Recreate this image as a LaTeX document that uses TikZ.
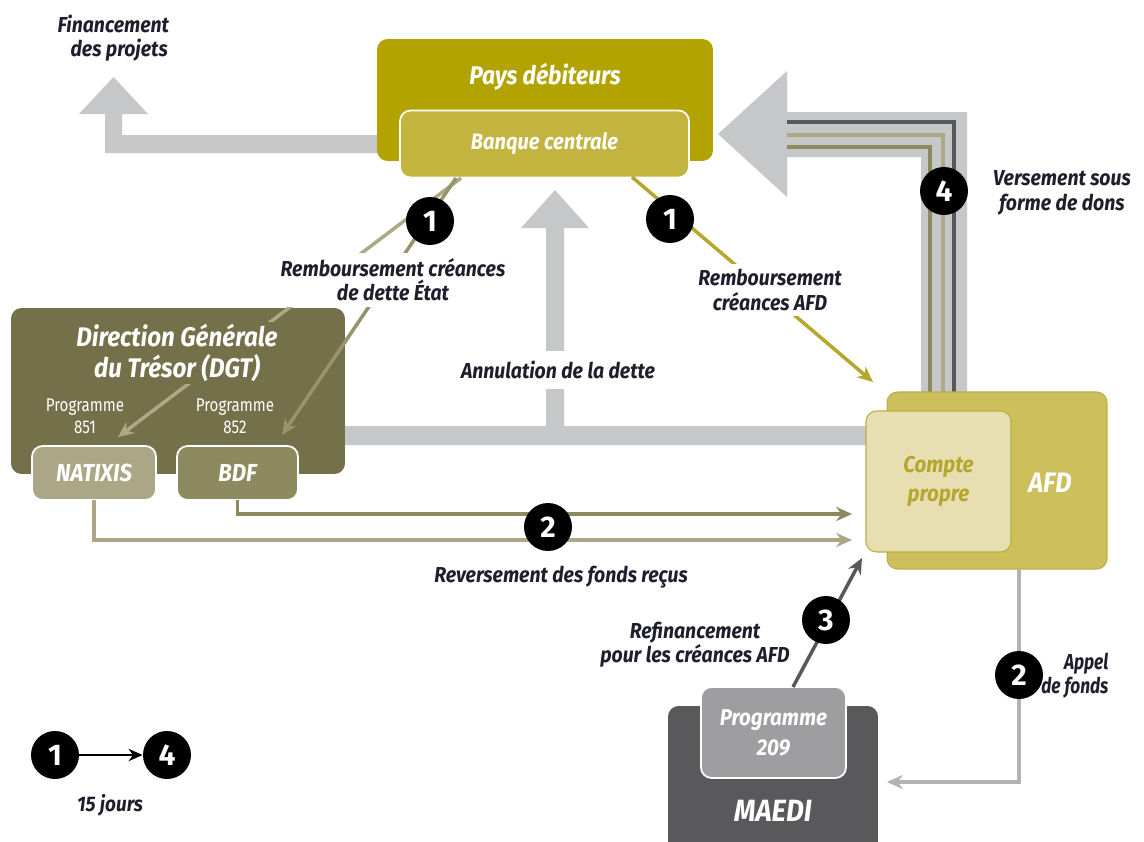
\documentclass[tikz,border=0pt]{standalone}
\usepackage{fontspec}
\setmainfont{Fira Sans}
\newfontfamily\labfont{Fira Sans}[FakeStretch=0.9]
\newfontfamily\narrowfont{Fira Sans}[FakeStretch=0.8]
\newfontfamily\condfont{Fira Sans}[FakeStretch=0.82]
\usetikzlibrary{arrows.meta}
\newcommand\fsz[2]{\fontsize{#1}{#2}\selectfont}
\definecolor{band}{HTML}{C6C7C9}
\definecolor{pays}{HTML}{B2A300}
\definecolor{banque}{HTML}{C3B440}
\definecolor{dgt}{HTML}{747049}
\definecolor{natixis}{HTML}{AAA686}
\definecolor{bdf}{HTML}{8E8A5F}
\definecolor{afd}{HTML}{CDC05C}
\definecolor{afdborder}{HTML}{BBAE3F}
\definecolor{compte}{HTML}{E7DFB2}
\definecolor{comptetxt}{HTML}{B4A62E}
\definecolor{maedi}{HTML}{59595B}
\definecolor{prog}{HTML}{9E9EA0}
\definecolor{lineolive}{HTML}{B5A72C}
\definecolor{linedark}{HTML}{58585A}
\definecolor{linegray}{HTML}{B3B3B3}
\definecolor{lntan}{HTML}{ADA987}
\definecolor{lnolive}{HTML}{97936B}
\definecolor{labc}{HTML}{1E1E2C}
\begin{document}
\begin{tikzpicture}[x=0.02cm,y=-0.02cm,
  box/.style={rounded corners=6pt, inner sep=0pt, outer sep=0pt},
  lbl/.style={text=labc, font=\labfont\itshape\bfseries\fsz{12.3}{13.8}, align=center, fill=white, inner sep=3pt},
  wtxt/.style={text=white, font=\labfont\itshape\bfseries\fsz{12}{16}, align=center},
  num/.style={circle, fill=black, text=white, minimum size=0.96cm, inner sep=0pt, font=\bfseries\fsz{17}{17}},
  flowtip/.style={-{Stealth[length=9pt,width=8pt,inset=3pt]}},
  conn/.style={line width=2pt}]
\clip (0,0) rectangle (1144,842);
\fill[white] (0,0) rectangle (1144,842);

% grey bands
\fill[band] (400,135) -- (122,135) -- (122,114) -- (148,114) -- (113.5,77) -- (79,114) -- (105,114) -- (105,153) -- (400,153) -- cycle;
\fill[band] (340,426) -- (546,426) -- (546,228) -- (521,228) -- (555,190) -- (589,228) -- (564,228) -- (564,426) -- (880,426) -- (880,445) -- (340,445) -- cycle;
\fill[band] (921,400) -- (921,157) -- (787,157) -- (787,197) -- (718,134) -- (787,71) -- (787,112) -- (967,112) -- (967,400) -- cycle;

% lines inside the grey band
\draw[line width=2.2pt, linedark] (954,400) -- (954,122) -- (787,122);
\draw[line width=2.2pt, lntan] (943,400) -- (943,135) -- (787,135);
\draw[line width=2.2pt, bdf] (930,400) -- (930,147) -- (787,147);

% boxes
\node[box, fill=pays, minimum width=6.72cm, minimum height=2.44cm] (pays) at (545,100) {};
\node[box, fill=banque, draw=white, line width=1pt, minimum width=5.78cm, minimum height=1.34cm, wtxt, font=\labfont\itshape\bfseries\fsz{12.7}{14}] (banque) at (544.5,144) {Banque centrale};
\node[box, fill=dgt, minimum width=6.68cm, minimum height=3.32cm] (dgt) at (178,391) {};
\node[box, fill=natixis, draw=white, line width=1pt, minimum width=2.48cm, minimum height=1.08cm, wtxt, font=\labfont\itshape\bfseries\fsz{14}{15}] (natixis) at (94,473) {NATIXIS};
\node[box, fill=bdf, draw=white, line width=1pt, minimum width=2.42cm, minimum height=1.08cm, wtxt, font=\labfont\itshape\bfseries\fsz{14}{15}] (bdf) at (237.5,473) {BDF};
\node[box, fill=afd, draw=afdborder, line width=0.6pt, minimum width=4.4cm, minimum height=3.54cm] (afd) at (997,480.5) {};
\node[box, fill=compte, draw=afdborder, line width=0.6pt, minimum width=2.9cm, minimum height=2.82cm, text=comptetxt, font=\labfont\itshape\bfseries\fsz{13}{16.5}, align=center] (compte) at (938.5,481.5) {Compte\\propre};
\node[box, fill=maedi, minimum width=4.2cm, minimum height=3.2cm] (maedi) at (773,786) {};
\node[box, fill=prog, draw=white, line width=1pt, minimum width=2.9cm, minimum height=1.82cm, wtxt, font=\labfont\itshape\bfseries\fsz{13}{17}] (prog) at (773.5,732.5) {Programme\\209};

% connector end points
\coordinate (bA) at (461,178);
\coordinate (bB) at (456,178);
\coordinate (bC) at (632,177);
\coordinate (natT) at (118,437);
\coordinate (bdfT) at (282,435);
\coordinate (afdT) at (873,382);
\coordinate (revB) at (852,514);
\coordinate (revN) at (852,540);
\coordinate (progTop) at (793,687);
\coordinate (refT) at (862,558);
\coordinate (afdBot) at (1019,569);
\coordinate (maediT) at (887,782);

% connectors
\draw[conn, lntan, flowtip] (bA) -- (natT);
\draw[conn, lnolive, flowtip] (bB) -- (bdfT);
\draw[conn, lineolive, flowtip] (bC) -- (afdT);
\draw[conn, bdf, flowtip] (bdf.south) |- (revB);
\draw[conn, natixis, flowtip] (natixis.south) |- (revN);
\draw[conn, linedark, flowtip] (progTop) -- (refT);
\draw[conn, linegray, flowtip] (afdBot) |- (maediT);

% box texts
\node[wtxt, font=\labfont\itshape\bfseries\fsz{14.5}{16}] (paysT) at (545,77) {Pays débiteurs};
\node[wtxt, fill=dgt, inner sep=1pt, font=\labfont\itshape\bfseries\fsz{15.3}{18}] (dgtT) at (177,353) {Direction Générale\\du Trésor (DGT)};
\node[text=white, font=\condfont\fsz{10.5}{12.5}, align=center] (p851) at (85,416) {Programme\\851};
\node[text=white, font=\condfont\fsz{10.5}{12.5}, align=center] (p852) at (235,416) {Programme\\852};
\node[wtxt, font=\labfont\itshape\bfseries\fsz{16}{18}] (afdT2) at (1050,483) {AFD};
\node[wtxt, font=\labfont\itshape\bfseries\fsz{17.5}{19}] (maediT2) at (773,811) {MAEDI};

% labels
\node[lbl] (lab1) at (393,280) {Remboursement créances\\de dette État};
\node[lbl] (lab2) at (770,290) {Remboursement\\créances AFD};
\node[lbl, inner ysep=6pt] (lab3) at (558,370) {Annulation de la dette};
\node[lbl, fill=none] (lab4) at (1062,193) {Versement sous\\forme de dons};
\node[lbl, fill=none] (lab5) at (561,577) {Reversement des fonds reçus};
\node[lbl, fill=none] (lab6) at (695,645) {Refinancement\\pour les créances AFD};
\node[lbl, fill=none, align=right, anchor=east, font=\narrowfont\itshape\bfseries\fsz{12.3}{13.8}] (lab7) at (1114,676) {Appel\\de fonds};
\node[lbl, fill=none, align=left, anchor=west] (lab0) at (52,38) {Financement\\\hspace*{0.6em}des projets};
\node[lbl, fill=none, font=\labfont\itshape\bfseries\fsz{12}{13}] (lab8) at (110,805) {15 jours};

% numbered circles
\node[num] (c1a) at (430,221) {1};
\node[num] (c1b) at (670,219) {1};
\node[num] (c4) at (944,191) {4};
\node[num] (c2a) at (548,527) {2};
\node[num] (c3) at (826,620) {3};
\node[num] (c2b) at (1019,675) {2};
\node[num] (l1) at (55,755) {1};
\node[num] (l4) at (167,755) {4};
\draw[line width=1.1pt, -{Stealth[length=8pt,width=7pt,inset=2.5pt]}] (l1) -- (l4);
\end{tikzpicture}
\end{document}
